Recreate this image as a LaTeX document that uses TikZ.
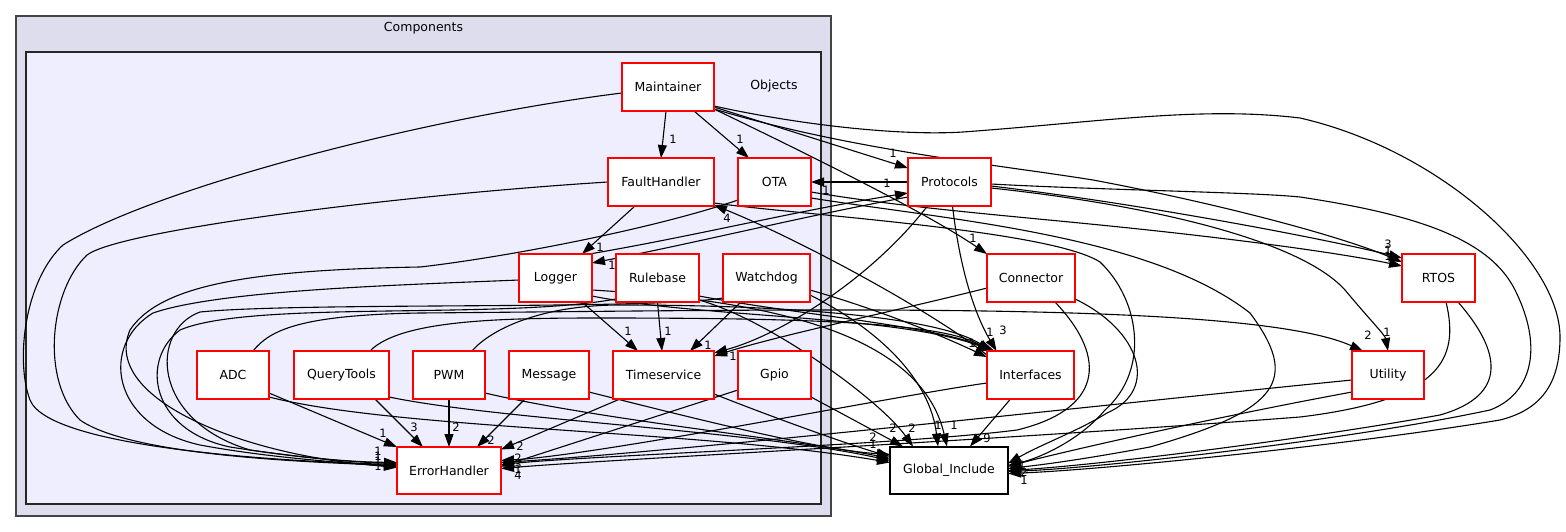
\documentclass[tikz,border=0pt]{standalone}
\usepackage{fontspec}
\setmainfont{DejaVu Sans}
\usetikzlibrary{arrows.meta,calc}
\definecolor{outerfill}{HTML}{DDDDEE}
\definecolor{innerfill}{HTML}{EEEEFF}
\definecolor{outerdraw}{HTML}{444444}
\pgfdeclarelayer{clusters}
\pgfdeclarelayer{edges}
\pgfsetlayers{clusters,edges,main}
\begin{document}
\begin{tikzpicture}[x=1pt,y=-1pt,
  box/.style={draw=red, fill=white, line width=1.4pt, minimum width=#1, minimum height=48pt, inner sep=0pt, font=\fontsize{12.5}{14}\selectfont},
  gbox/.style={box=#1, draw=black},
  lab/.style={font=\fontsize{11.5}{12}\selectfont, inner sep=0pt},
  clab/.style={font=\fontsize{12.5}{14}\selectfont, inner sep=0pt},
  e/.style={draw=black, line width=1.1pt, -{Triangle[length=13pt,width=9pt]}}]
\useasboundingbox (0,0) rectangle (1566,532);
\begin{pgfonlayer}{clusters}
\draw[fill=outerfill, draw=outerdraw, line width=1.4pt] (16,16) rectangle (831,516);
\draw[fill=innerfill, draw=black!85, line width=1.4pt] (26,52) rectangle (821,504);
\end{pgfonlayer}
\node[clab] (compl) at (423.5,28) {Components};
\node[clab] (objl) at (774,86) {Objects};
% nodes
\node[box=92pt] (M) at (668,87) {Maintainer};
\node[box=106pt] (FH) at (661,182) {FaultHandler};
\node[box=73pt] (OTA) at (774.5,182) {OTA};
\node[box=83pt] (P) at (949.5,182) {Protocols};
\node[box=73pt] (L) at (555.5,278) {Logger};
\node[box=83pt] (RB) at (657.5,278) {Rulebase};
\node[box=87pt] (WD) at (766.5,278) {Watchdog};
\node[box=88pt] (C) at (1031,278) {Connector};
\node[box=73pt] (RT) at (1438.5,278) {RTOS};
\node[box=72pt] (ADC) at (233,375) {ADC};
\node[box=95pt] (QT) at (341.5,375) {QueryTools};
\node[box=72pt] (PWM) at (449,375) {PWM};
\node[box=80pt] (MSG) at (549,375) {Message};
\node[box=101pt] (TS) at (663.5,375) {Timeservice};
\node[box=73pt] (G) at (774.5,375) {Gpio};
\node[box=87pt] (I) at (1030.5,375) {Interfaces};
\node[box=72pt] (U) at (1388,375) {Utility};
\node[box=104pt, minimum height=47pt] (EH) at (449,470.5) {ErrorHandler};
\node[gbox=118pt, minimum height=47pt] (GI) at (949,470.5) {Global\_Include};
% edges
\begin{pgfonlayer}{edges}
\draw[e] ($(M)+(-2,24)$) -- ($(FH)+(0,-24)$);
\draw[e] ($(M)+(26,24)$) -- ($(OTA)+(-25.5,-24)$);
\draw[e] ($(M)+(46,20)$) -- ($(P)+(-41.5,-14)$);
\draw[e] ($(M)+(46,22)$) .. controls (820,160) and (930,215) .. ($(C)+(-44,-24)$);
\draw[e] ($(M)+(46,22)$) .. controls (850,150) and (1000,165) .. (1093,180) .. controls (1200,200) and (1330,232) .. ($(RT)+(-36.5,-16)$);
\draw[e] ($(M)+(46,19)$) .. controls (800,125) and (900,136) .. (963,132) .. controls (1100,122) and (1200,106) .. (1300,118) .. controls (1440,150) and (1560,260) .. (1560,337) .. controls (1560,385) and (1540,410) .. (1500,420) .. controls (1350,445) and (1100,470) .. ($(GI)+(59,3)$);
\draw[e] ($(M)+(-46,6)$) .. controls (420,118) and (150,190) .. (63,245) .. controls (25,280) and (15,360) .. (30,400) .. controls (50,450) and (300,462) .. ($(EH)+(-52,-6)$);
\draw[e] ($(FH)+(-26,24)$) -- ($(L)+(26.5,-24)$);
\draw[e] ($(FH)+(-53,0)$) .. controls (400,195) and (120,230) .. (87,255) .. controls (50,290) and (40,380) .. (80,420) .. controls (130,455) and (300,462) .. ($(EH)+(-52,-5)$);
\draw[e] ($(FH)+(53,21)$) .. controls (800,215) and (1050,230) .. (1100,262) .. controls (1140,300) and (1150,370) .. (1105,410) .. controls (1080,440) and (1040,458) .. ($(GI)+(59,-5)$);
\draw[e] ($(OTA)+(-36.5,18)$) .. controls (650,230) and (500,258) .. (420,267) .. controls (250,270) and (160,285) .. (130,330) .. controls (100,400) and (250,458) .. ($(EH)+(-52,-4)$);
\draw[e] ($(OTA)+(36.5,10)$) .. controls (900,207) and (1000,215) .. (1100,225) .. controls (1250,240) and (1350,255) .. ($(RT)+(-36.5,-12)$);
\draw[e] ($(OTA)+(36.5,16)$) .. controls (950,220) and (1150,235) .. (1250,313) .. controls (1300,380) and (1280,410) .. (1150,447) .. controls (1080,460) and (1040,465) .. ($(GI)+(59,-2)$);
\draw[e] ($(P)+(-41.5,0)$) -- ($(OTA)+(36.5,0)$);
\draw[e] ($(L)+(34,-24)$) .. controls (700,235) and (800,210) .. ($(P)+(-41.5,11)$);
\draw[e] ($(P)+(-41.5,15)$) .. controls (800,217) and (700,242) .. ($(L)+(36.5,-15)$);
\draw[e] ($(P)+(-22,24)$) .. controls (870,280) and (780,335) .. ($(TS)+(50.5,-22)$);
\draw[e] ($(P)+(3,24)$) .. controls (960,270) and (975,315) .. ($(I)+(-34,-24)$);
\draw[e] ($(P)+(41.5,4)$) .. controls (1150,205) and (1330,240) .. ($(RT)+(-36.5,-20)$);
\draw[e] ($(P)+(41.5,6)$) .. controls (1150,205) and (1300,240) .. (1345,290) .. controls (1370,320) and (1385,335) .. ($(U)+(0,-24)$);
\draw[e] ($(P)+(41.5,2)$) .. controls (1100,190) and (1250,192) .. (1300,197) .. controls (1420,215) and (1490,240) .. (1515,290) .. controls (1545,350) and (1530,395) .. (1490,410) .. controls (1350,440) and (1100,468) .. ($(GI)+(59,1)$);
\draw[e] ($(I)+(-43.5,8)$) .. controls (900,395) and (600,455) .. ($(EH)+(52,-10)$);
\draw[e] ($(G)+(-36.5,15)$) -- ($(EH)+(52,-4)$);
\draw[e] ($(U)+(-36,5)$) .. controls (1100,405) and (700,450) .. ($(EH)+(52,-8)$);
\draw[e] ($(C)+(24,24)$) .. controls (1110,360) and (1100,410) .. (1017,430) .. controls (900,445) and (600,455) .. ($(EH)+(52,-6)$);
\draw[e] ($(RT)+(7.5,24)$) .. controls (1460,360) and (1440,400) .. (1300,417) .. controls (1000,440) and (600,460) .. ($(EH)+(52,-2)$);
\draw[e] ($(RT)+(19.5,24)$) .. controls (1500,350) and (1510,395) .. (1440,415) .. controls (1300,440) and (1100,465) .. ($(GI)+(59,0)$);
\draw[e] ($(U)+(-36,17)$) .. controls (1200,420) and (1050,455) .. ($(GI)+(59,-4)$);
\draw[e] ($(C)+(44,21)$) .. controls (1140,330) and (1160,390) .. (1107,413) .. controls (1080,430) and (1040,445) .. ($(GI)+(59,-7)$);
\draw[e] ($(I)+(-20,24)$) -- ($(GI)+(21,-24)$);
\draw[e] ($(I)+(-43.5,-20)$) .. controls (930,310) and (800,240) .. ($(FH)+(53,23)$);
\draw[e] ($(C)+(-44,10)$) .. controls (900,310) and (780,335) .. ($(TS)+(50.5,-19)$);
\draw[e] ($(TS)+(-43.5,24)$) -- ($(EH)+(52,-21)$);
\draw[e] ($(TS)+(50.5,19)$) .. controls (780,420) and (850,445) .. ($(GI)+(-59,-14)$);
\draw[e] ($(L)+(26.5,24)$) -- ($(TS)+(-25.5,-24)$);
\draw[e] ($(L)+(-36.5,2)$) .. controls (400,285) and (220,290) .. (153,313) .. controls (100,345) and (110,425) .. (200,445) .. controls (270,458) and (340,462) .. ($(EH)+(-52,-3)$);
\draw[e] ($(L)+(36.5,18)$) .. controls (700,318) and (900,315) .. ($(I)+(-38,-24)$);
\draw[e] ($(L)+(36.5,12)$) .. controls (760,300) and (920,330) .. ($(GI)+(-2,-24)$);
\draw[e] ($(RB)+(0,24)$) -- ($(TS)+(-1.5,-24)$);
\draw[e] ($(RB)+(-41.5,21)$) .. controls (500,320) and (250,300) .. (180,330) .. controls (140,360) and (150,430) .. (230,447) .. controls (300,458) and (350,462) .. ($(EH)+(-52,-7)$);
\draw[e] ($(RB)+(41.5,18)$) .. controls (800,315) and (930,325) .. ($(I)+(-36,-24)$);
\draw[e] ($(RB)+(41.5,22)$) .. controls (770,320) and (880,400) .. ($(GI)+(-36,-24)$);
\draw[e] ($(WD)+(-25.5,24)$) -- ($(TS)+(26.5,-24)$);
\draw[e] ($(WD)+(43.5,12)$) .. controls (880,310) and (940,335) .. ($(I)+(-43.5,-18)$);
\draw[e] ($(WD)+(43.5,17)$) .. controls (880,330) and (930,380) .. ($(GI)+(-11,-24)$);
\draw[e] ($(WD)+(-43.5,20)$) .. controls (650,310) and (300,302) .. (200,312) .. controls (150,330) and (150,420) .. (250,450) .. controls (320,460) and (360,462) .. ($(EH)+(-52,-8)$);
\draw[e] ($(ADC)+(36,18)$) -- ($(EH)+(-52,-23.5)$);
\draw[e] ($(ADC)+(36,22)$) .. controls (400,430) and (700,430) .. ($(GI)+(-59,-8)$);
\draw[e] ($(ADC)+(20,-24)$) .. controls (270,330) and (300,315) .. (420,313) .. controls (800,310) and (1250,300) .. ($(U)+(-25,-24)$);
\draw[e] ($(QT)+(33.5,24)$) -- ($(EH)+(-26,-23.5)$);
\draw[e] ($(QT)+(47.5,22)$) .. controls (500,420) and (750,430) .. ($(GI)+(-59,-10)$);
\draw[e] ($(QT)+(28.5,-24)$) .. controls (400,320) and (500,318) .. (600,318) .. controls (800,318) and (940,322) .. ($(I)+(-40,-24)$);
\draw[e] ($(PWM)+(0,24)$) -- ($(EH)+(0,-23.5)$);
\draw[e] ($(PWM)+(36,18)$) .. controls (600,420) and (800,440) .. ($(GI)+(-59,-12)$);
\draw[e] ($(PWM)+(23,-24)$) .. controls (490,330) and (540,305) .. (620,305) .. controls (800,305) and (940,318) .. ($(I)+(-39,-24)$);
\draw[e] ($(MSG)+(-24,24)$) -- ($(EH)+(28,-23.5)$);
\draw[e] ($(MSG)+(40,17)$) .. controls (700,420) and (820,450) .. ($(GI)+(-59,-16)$);
\draw[e] ($(G)+(36.5,22)$) -- ($(GI)+(-46,-24)$);
\end{pgfonlayer}
% labels
\node[lab] (n1) at (673,139) {1};
\node[lab] (n2) at (740,139) {1};
\node[lab] (n3) at (893,153) {1};
\node[lab] (n4) at (973,238) {1};
\node[lab] (n5) at (1388,244) {3};
\node[lab] (n6) at (1388,250) {1};
\node[lab] (n7) at (1388,256) {1};
\node[lab] (n8) at (600,247) {1};
\node[lab] (n9) at (612,265) {1};
\node[lab] (n10) at (887,183) {1};
\node[lab] (n11) at (826,190) {1};
\node[lab] (n12) at (727,218) {4};
\node[lab] (n13) at (628,331) {1};
\node[lab] (n14) at (668,331) {1};
\node[lab] (n15) at (708,345) {1};
\node[lab] (n16) at (733,356) {1};
\node[lab] (n17) at (972,343) {1};
\node[lab] (n18) at (990,332) {1};
\node[lab] (n19) at (1003,330) {3};
\node[lab] (n20) at (1368,335) {2};
\node[lab] (n21) at (1387,332) {1};
\node[lab] (n22) at (987,438) {9};
\node[lab] (n23) at (893,428) {2};
\node[lab] (n24) at (912,428) {2};
\node[lab] (n25) at (938,425) {1};
\node[lab] (n26) at (954,425) {1};
\node[lab] (n27) at (873,437) {2};
\node[lab] (n28) at (873,444) {1};
\node[lab] (n29) at (1022,465) {1};
\node[lab] (n30) at (1024,472) {2};
\node[lab] (n31) at (1024,480) {1};
\node[lab] (n32) at (383,433) {1};
\node[lab] (n33) at (414,427) {3};
\node[lab] (n34) at (456,427) {2};
\node[lab] (n35) at (491,440) {2};
\node[lab] (n36) at (520,446) {2};
\node[lab] (n37) at (378,451) {1};
\node[lab] (n38) at (378,456) {1};
\node[lab] (n39) at (378,461) {1};
\node[lab] (n40) at (378,466) {1};
\node[lab] (n41) at (518,458) {2};
\node[lab] (n42) at (518,464) {3};
\node[lab] (n43) at (518,469) {1};
\node[lab] (n44) at (518,475) {4};
\end{tikzpicture}
\end{document}
